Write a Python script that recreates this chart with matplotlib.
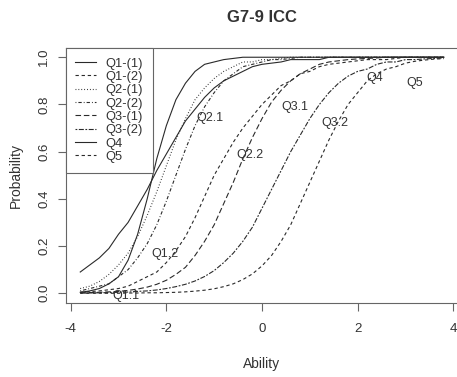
import matplotlib
matplotlib.use("Agg")
import matplotlib.pyplot as plt
from matplotlib import font_manager

# ---------------- data ----------------
theta = [-3.8, -3.6, -3.4, -3.2, -3.0, -2.8, -2.6, -2.4, -2.2, -2.0,
         -1.8, -1.6, -1.4, -1.2, -1.0, -0.8, -0.6, -0.4, -0.2, 0.0,
         0.2, 0.4, 0.6, 0.8, 1.0, 1.2, 1.4, 1.6, 1.8, 2.0,
         2.2, 2.4, 2.6, 2.8, 3.0, 3.2, 3.4, 3.6, 3.8]

q1_1 = [0.09, 0.12, 0.15, 0.19, 0.25, 0.30, 0.37, 0.44, 0.52, 0.59,
        0.66, 0.73, 0.78, 0.83, 0.87, 0.90, 0.92, 0.94, 0.96, 0.97,
        0.975, 0.98, 0.99, 0.99, 0.99, 0.99, 1.0, 1.0, 1.0, 1.0,
        1.0, 1.0, 1.0, 1.0, 1.0, 1.0, 1.0, 1.0, 1.0]

q1_2 = [0.005, 0.007, 0.01, 0.015, 0.02, 0.03, 0.05, 0.07, 0.09, 0.13,
        0.18, 0.24, 0.32, 0.41, 0.50, 0.57, 0.64, 0.70, 0.75, 0.80,
        0.84, 0.88, 0.90, 0.93, 0.94, 0.96, 0.97, 0.975, 0.98, 0.985,
        0.99, 0.99, 0.99, 0.995, 1.0, 1.0, 1.0, 1.0, 1.0]

q2_1 = [0.02, 0.03, 0.05, 0.08, 0.12, 0.17, 0.24, 0.33, 0.43, 0.54,
        0.65, 0.74, 0.82, 0.87, 0.91, 0.94, 0.96, 0.98, 0.98, 0.99,
        0.99, 0.995, 1.0, 1.0, 1.0, 1.0, 1.0, 1.0, 1.0, 1.0,
        1.0, 1.0, 1.0, 1.0, 1.0, 1.0, 1.0, 1.0, 1.0]

q2_2 = [0.01, 0.02, 0.03, 0.04, 0.07, 0.10, 0.15, 0.21, 0.29, 0.39,
        0.50, 0.61, 0.71, 0.79, 0.85, 0.90, 0.93, 0.96, 0.97, 0.98,
        0.99, 0.99, 0.995, 1.0, 1.0, 1.0, 1.0, 1.0, 1.0, 1.0,
        1.0, 1.0, 1.0, 1.0, 1.0, 1.0, 1.0, 1.0, 1.0]

q3_1 = [0.002, 0.003, 0.004, 0.006, 0.008, 0.012, 0.018, 0.026, 0.038, 0.055,
        0.08, 0.11, 0.16, 0.22, 0.29, 0.38, 0.47, 0.57, 0.66, 0.74,
        0.81, 0.86, 0.90, 0.93, 0.95, 0.97, 0.98, 0.985, 0.99, 0.993,
        0.995, 0.997, 1.0, 1.0, 1.0, 1.0, 1.0, 1.0, 1.0]

q3_2 = [0.001, 0.001, 0.002, 0.003, 0.004, 0.005, 0.008, 0.010, 0.014, 0.020,
        0.028, 0.038, 0.052, 0.071, 0.096, 0.13, 0.17, 0.22, 0.28, 0.36,
        0.44, 0.52, 0.60, 0.67, 0.74, 0.80, 0.85, 0.89, 0.92, 0.94,
        0.95, 0.97, 0.98, 0.98, 0.99, 0.99, 0.993, 0.995, 0.997]

q4 = [0.004, 0.01, 0.02, 0.04, 0.07, 0.14, 0.25, 0.40, 0.57, 0.71,
      0.82, 0.89, 0.94, 0.97, 0.98, 0.99, 0.995, 1.0, 1.0, 1.0,
      1.0, 1.0, 1.0, 1.0, 1.0, 1.0, 1.0, 1.0, 1.0, 1.0,
      1.0, 1.0, 1.0, 1.0, 1.0, 1.0, 1.0, 1.0, 1.0]

q5 = [0.0, 0.0, 0.0, 0.0, 0.0, 0.001, 0.001, 0.002, 0.002, 0.003,
      0.004, 0.006, 0.009, 0.013, 0.019, 0.028, 0.040, 0.058, 0.082, 0.116,
      0.16, 0.22, 0.29, 0.38, 0.47, 0.56, 0.65, 0.73, 0.80, 0.85,
      0.90, 0.93, 0.95, 0.96, 0.975, 0.983, 0.988, 0.992, 0.994]

series_names = ["Q1-(1)", "Q1-(2)", "Q2-(1)", "Q2-(2)", "Q3-(1)", "Q3-(2)", "Q4", "Q5"]
series_values = [q1_1, q1_2, q2_1, q2_2, q3_1, q3_2, q4, q5]

curve_labels = ["Q1.1", "Q1.2", "Q2.1", "Q2.2", "Q3.1", "Q3.2", "Q4", "Q5"]
curve_label_x = [-2.85, -2.02, -1.08, -0.25, 0.68, 1.53, 2.35, 3.20]
curve_label_y = [-0.012, 0.167, 0.741, 0.586, 0.79, 0.72, 0.91, 0.889]

x_ticks = [-4, -2, 0, 2, 4]
y_ticks = [0.0, 0.2, 0.4, 0.6, 0.8, 1.0]
y_tick_labels = ["0.0", "0.2", "0.4", "0.6", "0.8", "1.0"]

# ---------------- styles ----------------
line_styles = ["-", (0, (3, 2.5)), (0, (0.8, 1.8)), (0, (0.8, 1.8, 3, 1.8)),
               (0, (5, 2.5)), (0, (1.6, 1.4, 4.5, 1.4)), "-", (0, (3, 2.5))]

installed = {f.name for f in font_manager.fontManager.ttflist}
fams = [f for f in ["Liberation Sans Narrow", "Liberation Sans", "DejaVu Sans"] if f in installed]
plt.rcParams["font.family"] = fams

W, H = 457, 377
fig = plt.figure(figsize=(W / 100, H / 100), dpi=100)
ax = fig.add_axes([65.7 / W, (H - 302.7) / H, 392.6 / W, 254.9 / H])

line_color = "#2a2a2a"
for name, vals, ls in zip(series_names, series_values, line_styles):
    ax.plot(theta, vals, color=line_color, linewidth=0.8, linestyle=ls, label=name)

txt_color = "#333333"
for t, x, y in zip(curve_labels, curve_label_x, curve_label_y):
    ax.text(x, y, t, fontsize=9, color=txt_color, ha="center", va="center")

ax.set_xlim(-4.104, 4.104)
ax.set_ylim(-0.04, 1.04)
ax.set_xticks(x_ticks)
ax.set_xticklabels([str(v) for v in x_ticks])
ax.set_yticks(y_ticks)
ax.set_yticklabels(y_tick_labels)

for s in ax.spines.values():
    s.set_color("#666666")
    s.set_linewidth(0.8)

ax.tick_params(axis="both", direction="out", length=5.5, width=0.8,
               color="#666666", labelsize=9.5, labelcolor=txt_color)
ax.tick_params(axis="x", pad=9)
ax.tick_params(axis="y", pad=5.5)
for lab in ax.get_yticklabels():
    lab.set_rotation(90)
    lab.set_va("center")

leg = ax.legend(loc="upper left", bbox_to_anchor=(0, 1), borderaxespad=0,
                frameon=True, fancybox=False, edgecolor="#666666", framealpha=1,
                fontsize=9.3, handlelength=1.6, handletextpad=0.75,
                borderpad=0.75, labelspacing=0.1)
leg.get_frame().set_linewidth(0.8)
for txt in leg.get_texts():
    txt.set_color(txt_color)

fig.text(262 / W, 1 - 18 / H, "G7-9 ICC", ha="center", va="center",
         fontsize=12, fontweight="bold", color=txt_color)
fig.text(262 / W, 1 - 364 / H, "Ability", ha="center", va="center",
         fontsize=10, color=txt_color)
fig.text(16 / W, 1 - 176 / H, "Probability", ha="center", va="center",
         rotation=90, fontsize=10, color=txt_color)

fig.savefig("out.png", dpi=100, facecolor="white")
